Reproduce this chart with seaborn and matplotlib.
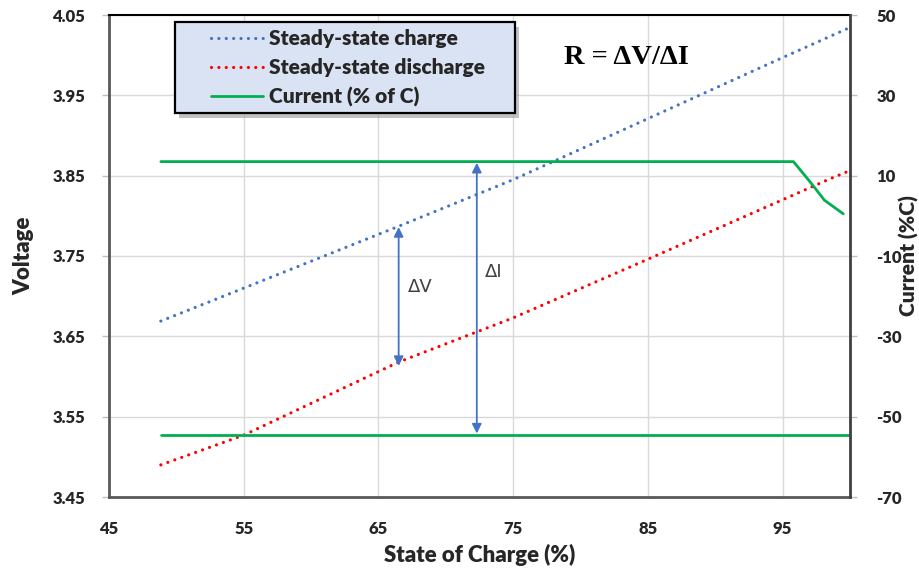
import matplotlib
matplotlib.use("Agg")
import matplotlib.pyplot as plt
import seaborn as sns
import pandas as pd
from matplotlib.lines import Line2D
from matplotlib.patches import Rectangle
from matplotlib import font_manager as fm

# ---- data ----
soc_charge = [48.85, 54.85, 66.5, 75, 85, 95, 99.8]
v_charge = [3.669, 3.709, 3.787, 3.845, 3.921, 3.997, 4.033]

soc_discharge = [48.85, 55, 66.5, 75, 85, 95, 98.5, 99.8]
v_discharge = [3.490, 3.527, 3.618, 3.673, 3.746, 3.820, 3.846, 3.855]

soc_cur_top = [48.85, 95.8, 97.1, 98.1, 99.5]
cur_top = [13.5, 13.5, 8.2, 3.9, 0.5]
soc_cur_bot = [48.85, 100]
cur_bot = [-54.5, -54.5]

x_ticks = [45, 55, 65, 75, 85, 95]
v_ticks = [3.45, 3.55, 3.65, 3.75, 3.85, 3.95, 4.05]
c_ticks = [-70, -50, -30, -10, 10, 30, 50]

sns.set_theme(style="white")

cands = ['Lato', 'Open Sans', 'Roboto', 'Noto Sans', 'Liberation Sans', 'DejaVu Sans']
chosen = 'DejaVu Sans'
for c in cands:
    try:
        fp = fm.findfont(fm.FontProperties(family=c, weight='bold'), fallback_to_default=False)
        f = fm.get_font(fp)
        if 'bold' in (f.style_name or '').lower() or 'bold' in fp.lower():
            chosen = c
            break
    except Exception:
        pass
plt.rcParams['font.family'] = [chosen, 'DejaVu Sans']
W = 'heavy'

df_c = pd.DataFrame({"soc": soc_charge, "v": v_charge})
df_d = pd.DataFrame({"soc": soc_discharge, "v": v_discharge})
df_t = pd.DataFrame({"soc": soc_cur_top, "c": cur_top})
df_b = pd.DataFrame({"soc": soc_cur_bot, "c": cur_bot})

fig = plt.figure(figsize=(9.2, 5.73), dpi=100)
ax = fig.add_axes([109/920, 1-497/573, (850-109)/920, (497-15)/573])
ax2 = ax.twinx()

blue = "#4472C4"
red = "#FF0000"
green = "#00B050"
dot = (0, (0.01, 2.3))

sns.lineplot(data=df_c, x="soc", y="v", ax=ax, color=blue, lw=2.3,
             linestyle=dot, dash_capstyle="round", sort=False)
sns.lineplot(data=df_d, x="soc", y="v", ax=ax, color=red, lw=2.3,
             linestyle=dot, dash_capstyle="round", sort=False)
sns.lineplot(data=df_t, x="soc", y="c", ax=ax2, color=green, lw=2.0, sort=False)
sns.lineplot(data=df_b, x="soc", y="c", ax=ax2, color=green, lw=2.0, sort=False)

ax.set_xlim(45, 100)
ax.set_ylim(3.45, 4.05)
ax2.set_ylim(-70, 50)
ax.set_xticks(x_ticks)
ax.set_xticklabels([str(t) for t in x_ticks])
ax.set_yticks(v_ticks)
ax.set_yticklabels([f"{t:.2f}" for t in v_ticks])
ax2.set_yticks(c_ticks)
ax2.set_yticklabels([str(t) for t in c_ticks])

ax.grid(True, color="#D9D9D9", lw=1.0)
ax2.grid(False)
ax.set_axisbelow(True)

for a in (ax, ax2):
    for s in a.spines.values():
        s.set_visible(False)
ax.spines['left'].set_visible(True)
ax.spines['left'].set_color("#595959")
ax.spines['left'].set_linewidth(2.0)
ax.spines['bottom'].set_visible(True)
ax.spines['bottom'].set_color("#595959")
ax.spines['bottom'].set_linewidth(2.0)
ax2.spines['right'].set_visible(True)
ax2.spines['right'].set_color("#404040")
ax2.spines['right'].set_linewidth(2.0)
ax.spines['top'].set_visible(True)
ax.spines['top'].set_color("#000000")
ax.spines['top'].set_linewidth(1.5)

ax.tick_params(axis='both', which='both', length=5, width=1, color="#BFBFBF",
               labelsize=12, direction='out')
ax.tick_params(axis='x', pad=12)
ax.tick_params(axis='y', pad=12)
ax2.tick_params(axis='y', length=5, width=1, color="#BFBFBF", labelsize=12,
                pad=14, direction='out')
for lab in ax.get_xticklabels() + ax.get_yticklabels() + ax2.get_yticklabels():
    lab.set_fontweight(W)

ax.set_xlabel("State of Charge (%)", fontsize=16, fontweight=W, labelpad=5)
ax.set_ylabel("Voltage", fontsize=16, fontweight=W, labelpad=13)
ax2.set_ylabel("Current (%C)", fontsize=15, fontweight=W)
ax2.yaxis.set_label_coords((899-109)/741, 0.5)

# arrows
arrow_kw = dict(arrowstyle="<|-|>", color=blue, lw=1.3, mutation_scale=14,
                shrinkA=0, shrinkB=0)
ax.annotate("", xy=(66.5, 3.786), xytext=(66.5, 3.613), arrowprops=arrow_kw)
ax.text(67.2, 3.712, "ΔV", fontsize=13, color="#404040", va='center', ha='left',
        family=['DejaVu Sans'])
ax2.annotate("", xy=(72.3, 13.2), xytext=(72.3, -54.2), arrowprops=arrow_kw)
ax2.text(72.9, -14.0, "ΔI", fontsize=13, color="#404040", va='center', ha='left',
         family=['DejaVu Sans'])

ax.text((626-109)/741, (497-57)/482, "R = ΔV/ΔI", transform=ax.transAxes, fontsize=20.5,
        fontweight='bold', family=['Liberation Serif', 'DejaVu Serif'],
        ha='center', va='center', color="black")

# legend box drawn as a patch (with shadow), legend itself frameless
def fx(px):
    return px / 920
def fy(py):
    return 1 - py / 573
shadow = Rectangle((fx(179), fy(118)), fx(515) - fx(175), fy(22) - fy(113),
                   transform=fig.transFigure, facecolor="#9A9A9A", edgecolor="none",
                   alpha=0.6, zorder=4)
box = Rectangle((fx(175), fy(113)), fx(515) - fx(175), fy(22) - fy(113),
                transform=fig.transFigure, facecolor="#DAE3F3", edgecolor="black",
                lw=1.6, zorder=5)
fig.patches.extend([shadow, box])

handles = [
    Line2D([], [], color=blue, lw=2.3, linestyle=dot, dash_capstyle="round"),
    Line2D([], [], color=red, lw=2.3, linestyle=dot, dash_capstyle="round"),
    Line2D([], [], color=green, lw=2.0),
]
labels = ["Steady-state charge", "Steady-state discharge", "Current (% of C)"]
leg = fig.legend(handles, labels, loc='upper left',
                 bbox_to_anchor=(fx(211), fy(29)),
                 frameon=False,
                 prop={'weight': W, 'size': 15},
                 handlelength=2.5, handletextpad=0.3, labelspacing=0.47,
                 borderpad=0, borderaxespad=0)
leg.set_zorder(6)

fig.savefig("out.png", dpi=100)
